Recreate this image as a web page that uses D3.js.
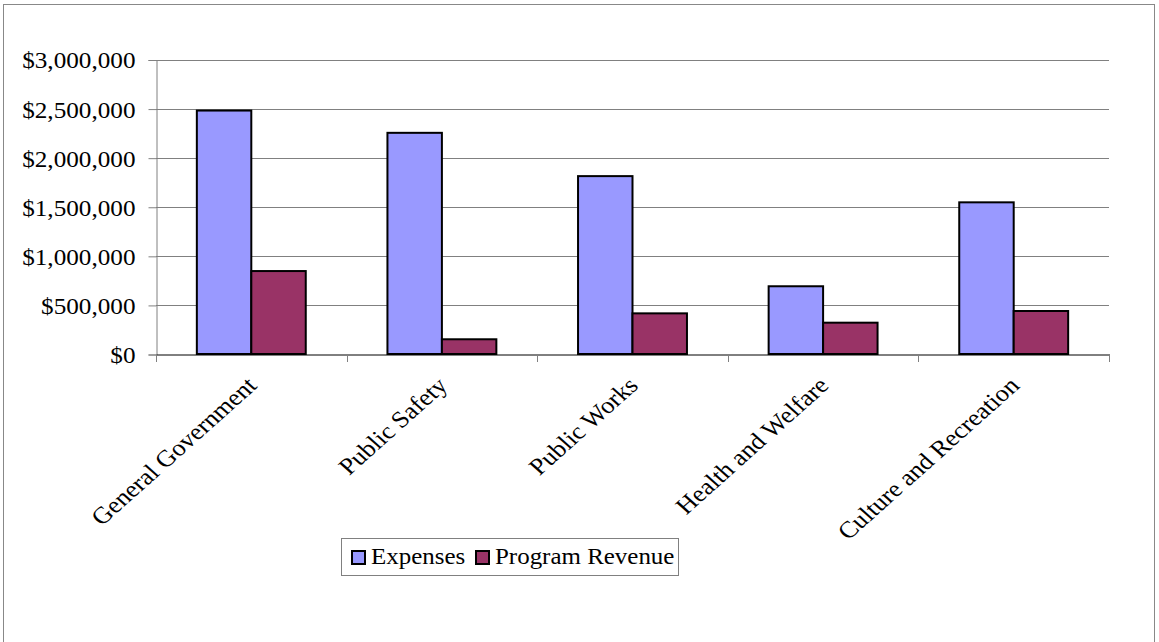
<!DOCTYPE html>
<html><head><meta charset="utf-8">
<script src="https://cdn.jsdelivr.net/npm/d3@7"></script>
<style>
html,body{margin:0;padding:0;background:#fff;}
svg{display:block;font-family:"Liberation Serif","Times New Roman",serif;}
</style></head>
<body>
<script>
const categories = ["General Government","Public Safety","Public Works","Health and Welfare","Culture and Recreation"];
const expenses = [2480000, 2253000, 1812000, 690000, 1545000];
const programRevenue = [845000, 150000, 414000, 319000, 438000];
const seriesNames = ["Expenses","Program Revenue"];
const seriesColors = ["#9999FF","#993366"];
const yTicks = [0,500000,1000000,1500000,2000000,2500000,3000000];

(function(){
const W = 1159, H = 642;
const svg = d3.select("body").append("svg").attr("width", W).attr("height", H);

// outer frame
svg.append("rect").attr("x",3.5).attr("y",4.5).attr("width",1151).attr("height",H+10)
  .attr("fill","none").attr("stroke","#888").attr("stroke-width",1);

const pL = 156, pR = 1109, pT = 59.5, pB = 354;
const x = d3.scaleBand().domain(categories).range([pL,pR]).paddingInner(0).paddingOuter(0);
const y = d3.scaleLinear().domain([0,3000000]).range([pB,pT]);
const groupW = x.bandwidth()*2/3.5;
const xs = d3.scaleBand().domain(seriesNames).range([0,groupW]);

// gridlines
svg.append("g").selectAll("line").data(yTicks.filter(d=>d>0)).join("line")
  .attr("x1",pL).attr("x2",pR)
  .attr("y1",d=>Math.round(y(d))+0.5).attr("y2",d=>Math.round(y(d))+0.5)
  .attr("stroke","#808080").attr("stroke-width",1);

// y axis
const yAxis = d3.axisLeft(y).tickValues(yTicks).tickSize(8).tickPadding(13)
  .tickFormat(d=>"$"+d3.format(",")(d));
const gy = svg.append("g").attr("transform",`translate(${pL+0.5},0.5)`).call(yAxis);
gy.select(".domain").attr("stroke","#808080");
gy.selectAll(".tick line").attr("stroke","#808080");
gy.selectAll("text").attr("font-size",24).attr("fill","#000").attr("x",-20)
  .attr("dy","0.33em").attr("transform","scale(1.05,1)")
  .attr("font-family","Liberation Serif, Times New Roman, serif");

// bars
const data = categories.map((c,i)=>({c, vals:[expenses[i], programRevenue[i]]}));
const groups = svg.append("g").selectAll("g").data(data).join("g")
  .attr("transform",d=>`translate(${x(d.c)+(x.bandwidth()-groupW)/2},0)`);
groups.selectAll("rect").data(d=>d.vals.map((v,j)=>({v,s:seriesNames[j],j}))).join("rect")
  .attr("x",d=>xs(d.s)).attr("width",xs.bandwidth())
  .attr("y",d=>y(d.v)).attr("height",d=>pB-y(d.v))
  .attr("fill",d=>seriesColors[d.j]).attr("stroke","#000").attr("stroke-width",2);

// x axis
const xAxis = d3.axisBottom(x).tickSize(0).tickFormat("");
const gx = svg.append("g").attr("transform",`translate(0,${pB+0.5})`).call(xAxis);
gx.select(".domain").attr("stroke","#000");
// category boundary ticks
const bounds = d3.range(categories.length+1).map(i=>pL + x.bandwidth()*i);
svg.append("g").selectAll("line").data(bounds).join("line")
  .attr("x1",d=>Math.round(d)+0.5).attr("x2",d=>Math.round(d)+0.5)
  .attr("y1",pB).attr("y2",pB+8).attr("stroke","#808080");

// category labels
svg.append("g").selectAll("text").data(categories).join("text")
  .attr("transform",d=>`translate(${x(d)+x.bandwidth()/2+7},${pB+33}) scale(1.12,1) rotate(-45)`)
  .attr("text-anchor","end").attr("font-size",23.5).attr("fill","#000").text(d=>d);

// legend
const lg = svg.append("g");
lg.append("rect").attr("x",341.5).attr("y",538.5).attr("width",337).attr("height",37)
  .attr("fill","#fff").attr("stroke","#808080");
const legX = [352, 476];
seriesNames.forEach((s,j)=>{
  lg.append("rect").attr("x",legX[j]).attr("y",551).attr("width",13).attr("height",13)
    .attr("fill",seriesColors[j]).attr("stroke","#000").attr("stroke-width",2);
  lg.append("text").attr("transform",`translate(${legX[j]+19},564) scale(1.04,1)`)
    .attr("font-size",24).attr("fill","#000").text(s);
});
})();
</script>
</body></html>
